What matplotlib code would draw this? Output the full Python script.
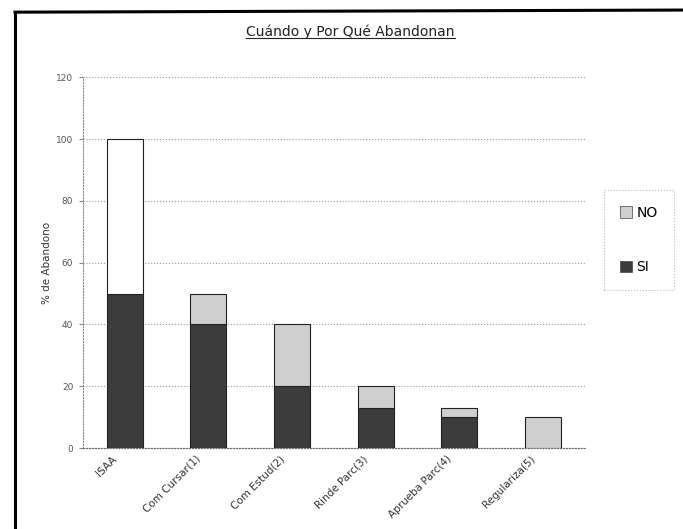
import matplotlib.pyplot as plt
import numpy as np
from matplotlib.lines import Line2D
from matplotlib.patches import Patch
from matplotlib.transforms import ScaledTranslation

# Data
categories = ['ISAA', 'Com Cursar(1)', 'Com Estud(2)', 'Rinde Parc(3)',
              'Aprueba Parc(4)', 'Regulariza(5)']
si_values = [50, 40, 20, 13, 10, 0]
no_values = [50, 10, 20, 7, 3, 10]

si_color = '#3c3c3c'
no_color = '#cfcfcf'
# the first bar's upper part is printed white in the original
no_colors = ['#ffffff'] + [no_color] * (len(categories) - 1)

fig = plt.figure(figsize=(6.83, 5.29), dpi=100)
ax = fig.add_axes([0.1215, 0.153, 0.735, 0.701])

x = np.arange(len(categories))
width = 0.43
ax.bar(x, si_values, width, color=si_color, edgecolor='#222222',
       linewidth=0.8, zorder=3)
ax.bar(x, no_values, width, bottom=si_values, color=no_colors,
       edgecolor='#222222', linewidth=0.8, zorder=3)

ax.set_xlim(-0.5, len(categories) - 0.5)
ax.set_ylim(0, 120)
ax.set_yticks(range(0, 121, 20))
ax.yaxis.grid(True, linestyle=':', color='#9a9a9a', linewidth=0.8)
ax.set_axisbelow(True)

for side in ['top', 'right']:
    ax.spines[side].set_visible(False)
ax.spines['left'].set_linestyle(':')
ax.spines['left'].set_color('#888888')
ax.spines['bottom'].set_linestyle(':')
ax.spines['bottom'].set_color('#666666')

ax.tick_params(axis='y', length=3, color='#888888', labelsize=6.5,
               labelcolor='#555555', pad=4)
ax.tick_params(axis='x', length=0, labelsize=7.5, labelcolor='#333333', pad=4)
ax.set_xticks(x)
ax.set_xticklabels(categories, rotation=45, ha='right', rotation_mode='anchor')
shift = ScaledTranslation(-0.13, 0, fig.dpi_scale_trans)
for lbl in ax.get_xticklabels():
    lbl.set_transform(lbl.get_transform() + shift)
ax.set_ylabel('% de Abandono', fontsize=7.5, color='#333333', labelpad=3)

# Legend (NO above SI)
handles = [Patch(facecolor=no_color, edgecolor='#444444', linewidth=0.5),
           Patch(facecolor=si_color, edgecolor='#444444', linewidth=0.5)]
leg = fig.legend(handles, ['NO', 'SI'], loc='center left',
                 bbox_to_anchor=(0.874, 0.546), fontsize=10, frameon=True,
                 labelspacing=2.9, handlelength=0.9, handleheight=0.9,
                 handletextpad=0.3, borderpad=1.15, fancybox=False)
leg.get_frame().set_edgecolor('#aaaaaa')
leg.get_frame().set_linestyle(':')
leg.get_frame().set_linewidth(0.8)

# Underlined title
title = fig.text(0.513, 0.94, 'Cuándo y Por Qué Abandonan', ha='center',
                 va='center', fontsize=10, color='#222222')
fig.canvas.draw()
bb = title.get_window_extent().transformed(fig.transFigure.inverted())
fig.add_artist(Line2D([bb.x0, bb.x1], [bb.y0 + 0.002, bb.y0 + 0.002],
                      transform=fig.transFigure, color='#222222', linewidth=0.8))

# Outer frame (left and top edges of the pasted chart)
fig.add_artist(Line2D([0.022, 0.022], [0.0, 0.977], transform=fig.transFigure,
                      color='black', linewidth=2.2))
fig.add_artist(Line2D([0.022, 1.0], [0.977, 0.981], transform=fig.transFigure,
                      color='black', linewidth=2.2))

fig.savefig('out.png', dpi=100)
